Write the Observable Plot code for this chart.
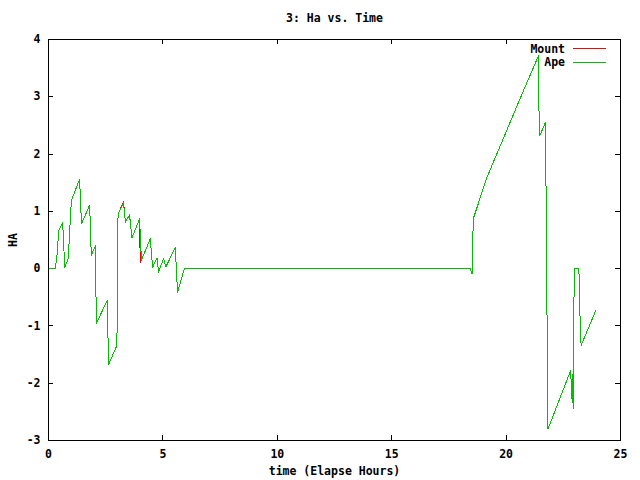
<!DOCTYPE html>
<html>
<head>
<meta charset="utf-8">
<script src="https://cdn.jsdelivr.net/npm/d3@7"></script>
<script src="https://cdn.jsdelivr.net/npm/@observablehq/plot@0.6"></script>
<style>
  html, body { margin: 0; padding: 0; background: #fff; }
  #chart svg { display: block; }
</style>
</head>
<body>
<div id="chart"></div>
<script>
const chartTitle = "3: Ha vs. Time";
const xLabel = "time (Elapse Hours)";
const yLabel = "HA";
const seriesNames = ["Mount", "Ape"];
const seriesColors = ["#ff0000", "#00c000"];
const xTicks = [0, 5, 10, 15, 20, 25];
const yTicks = [-3, -2, -1, 0, 1, 2, 3, 4];

const apeTime = [0, 0.30, 0.37, 0.45, 0.62, 0.71, 0.86, 0.96, 1.00, 1.36, 1.44, 1.80, 1.87, 2.05, 2.09, 2.56, 2.63, 2.99, 3.04, 3.28, 3.36, 3.54, 3.65, 3.98, 4.06, 4.45, 4.55, 4.74, 4.81, 5.03, 5.13, 5.54, 5.64, 5.94, 18.44, 18.51, 18.53, 18.55, 18.59, 19.16, 20.73, 21.42, 21.44, 21.47, 21.72, 21.75, 21.80, 21.83, 22.82, 22.88, 22.90, 22.93, 22.96, 23.00, 23.18, 23.21, 23.24, 23.28, 23.93];
const apeHa = [0, 0, 0.23, 0.66, 0.81, 0.02, 0.17, 0.90, 1.19, 1.56, 0.78, 1.11, 0.23, 0.40, -0.96, -0.56, -1.67, -1.34, 0.95, 1.15, 0.81, 0.94, 0.54, 0.87, 0.15, 0.52, 0.02, 0.19, -0.06, 0.18, 0.03, 0.37, -0.41, 0, 0, -0.09, 0.14, 0.63, 0.90, 1.59, 3.08, 3.72, 2.67, 2.32, 2.55, 1.22, -1.46, -2.80, -1.78, -2.27, -1.84, -2.45, -0.62, 0, 0, -0.35, -1.02, -1.34, -0.72];

const mountTime = [0, 0.30, 0.37, 0.45, 0.62, 0.71, 0.86, 0.96, 1.00, 1.36, 1.44, 1.80, 1.87, 2.05, 2.09, 2.56, 2.63, 2.99, 3.04, 3.28, 3.36, 3.54, 3.65, 3.98, 4.01, 4.45, 4.55, 4.74, 4.81, 5.03, 5.13, 5.54, 5.64, 5.94, 18.44, 18.51, 18.53, 18.55, 18.59, 19.16, 20.73, 21.42, 21.44, 21.47, 21.72, 21.75, 21.80, 21.83, 22.82, 22.88, 22.90, 22.93, 22.96, 23.00, 23.18, 23.21, 23.24, 23.28, 23.93];
const mountHa = [0, 0, 0.23, 0.66, 0.81, 0.02, 0.17, 0.90, 1.19, 1.56, 0.78, 1.11, 0.23, 0.40, -0.96, -0.56, -1.67, -1.34, 0.95, 1.17, 0.81, 0.94, 0.54, 0.87, 0.10, 0.52, 0.02, 0.19, -0.06, 0.18, 0.03, 0.37, -0.41, 0, 0, -0.09, 0.14, 0.63, 0.90, 1.59, 3.08, 3.72, 2.67, 2.32, 2.55, 1.22, -1.46, -2.80, -1.78, -2.27, -1.84, -2.45, -0.62, 0, 0, -0.35, -1.02, -1.34, -0.72];

const mountData = mountTime.map((t, i) => ({t, v: mountHa[i]}));
const apeData = apeTime.map((t, i) => ({t, v: apeHa[i]}));

const FONT = "'DejaVu Sans Mono', monospace";
const W = 640, H = 480, ML = 48, MR = 20, MT = 39, MB = 40;
const TICK = 5;
const FW = W - ML - MR, FH = H - MT - MB;

function legendMark(index, scales, values, dims) {
  const ns = "http://www.w3.org/2000/svg";
  const g = document.createElementNS(ns, "g");
  g.setAttribute("font-family", FONT);
  g.setAttribute("font-size", "11.5");
  g.setAttribute("font-weight", "bold");
  const right = dims.width - dims.marginRight;
  seriesNames.forEach((name, i) => {
    const y = dims.marginTop + 9.5 + i * 13.5;
    const t = document.createElementNS(ns, "text");
    t.setAttribute("x", right - 55); t.setAttribute("y", y); t.setAttribute("dy", "0.35em");
    t.setAttribute("text-anchor", "end"); t.setAttribute("fill", "black");
    t.textContent = name;
    g.appendChild(t);
    const l = document.createElementNS(ns, "path");
    const yy = Math.floor(y) + 0.5;
    l.setAttribute("d", `M${right - 47},${yy}H${right - 14}`);
    l.setAttribute("stroke", seriesColors[i]);
    l.setAttribute("stroke-width", "1");
    l.setAttribute("fill", "none");
    g.appendChild(l);
  });
  return g;
}

const tickStyle = {stroke: "black", strokeWidth: 1, shapeRendering: "crispEdges"};

const chart = Plot.plot({
  width: W,
  height: H,
  marginLeft: ML,
  marginRight: MR,
  marginTop: MT,
  marginBottom: MB,
  style: {fontFamily: FONT, fontSize: "11.5px", fontWeight: "bold", background: "white", color: "black"},
  x: {domain: [0, 25]},
  y: {domain: [-3, 4]},
  marks: [
    Plot.axisX(xTicks, {anchor: "bottom", tickSize: 0, tickPadding: 9, label: null, tickFormat: d => String(d)}),
    Plot.axisY(yTicks, {anchor: "left", tickSize: 0, tickPadding: 8, label: null, tickFormat: d => String(d)}),
    Plot.tickX(xTicks, {x: d => d, insetTop: FH - TICK, ...tickStyle}),
    Plot.tickX(xTicks, {x: d => d, insetBottom: FH - TICK, ...tickStyle}),
    Plot.tickY(yTicks, {y: d => d, insetRight: FW - TICK, ...tickStyle}),
    Plot.tickY(yTicks, {y: d => d, insetLeft: FW - TICK, ...tickStyle}),
    Plot.line(mountData, {x: "t", y: "v", stroke: seriesColors[0], strokeWidth: 1, curve: "linear", shapeRendering: "crispEdges"}),
    Plot.line(apeData, {x: "t", y: "v", stroke: seriesColors[1], strokeWidth: 1, curve: "linear", shapeRendering: "crispEdges"}),
    Plot.frame({stroke: "black", strokeWidth: 1, shapeRendering: "crispEdges"}),
    Plot.text([chartTitle], {frameAnchor: "top", lineAnchor: "middle", dy: -21, fontSize: 11.5, fontWeight: "bold"}),
    Plot.text([xLabel], {frameAnchor: "bottom", lineAnchor: "middle", dy: 31, fontSize: 11.5, fontWeight: "bold"}),
    Plot.text([yLabel], {frameAnchor: "left", textAnchor: "middle", lineAnchor: "middle", dx: -35, rotate: -90, fontSize: 11.5, fontWeight: "bold"}),
    legendMark
  ]
});
document.getElementById("chart").appendChild(chart);
</script>
</body>
</html>
